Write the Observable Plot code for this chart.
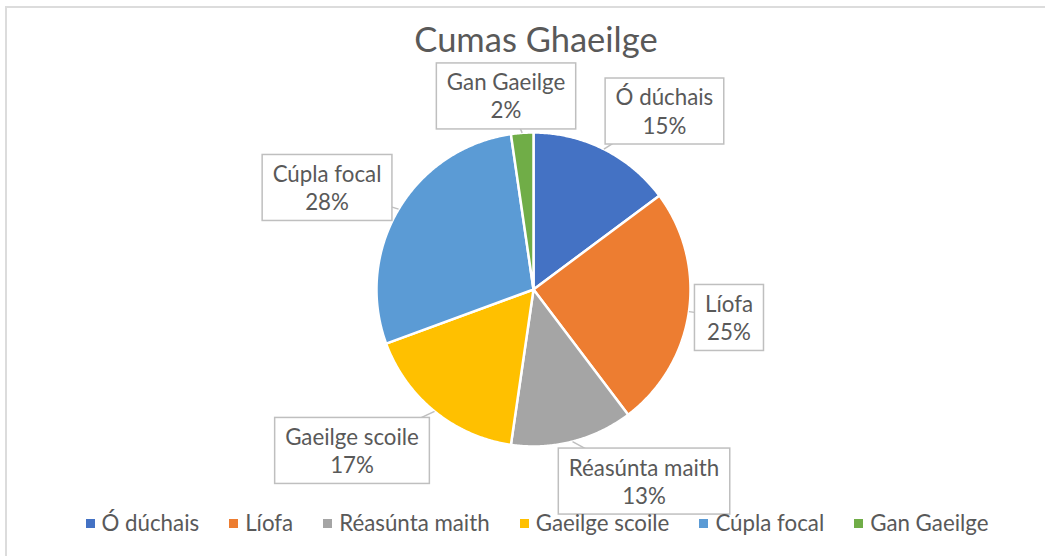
<!DOCTYPE html>
<html><head><meta charset="utf-8">
<script src="https://cdn.jsdelivr.net/npm/d3@7"></script>
<script src="https://cdn.jsdelivr.net/npm/@observablehq/plot@0.6"></script>
<style>
html,body{margin:0;padding:0;background:#fff;overflow:hidden;}
body{width:1045px;height:556px;position:relative;font-family:Lato,"Open Sans",sans-serif;color:#595959;}
#frame{position:absolute;left:5px;top:6px;width:1100px;height:600px;border-left:2px solid #dcdcdc;border-top:2px solid #dcdcdc;}
#title{position:absolute;left:0;top:22px;width:1072px;text-align:center;font-size:34.5px;line-height:1;white-space:nowrap;}
#plot{position:absolute;left:0;top:62px;}
#legend{position:absolute;left:0;top:512px;width:1074px;display:flex;justify-content:center;gap:30px;font-size:22.3px;line-height:1;white-space:nowrap;}
#legend .item{display:flex;align-items:center;}
#legend .sw{width:9px;height:9px;margin-right:7px;display:inline-block;}
</style></head>
<body>
<div id="frame"></div>
<div id="title"></div>
<div id="plot"></div>
<div id="legend"></div>
<script>
// ---- data ----
const categories = ["Ó dúchais", "Líofa", "Réasúnta maith", "Gaeilge scoile", "Cúpla focal", "Gan Gaeilge"];
const shares = [14.8, 24.9, 12.6, 17.1, 28.3, 2.3];
const colors = ["#4472C4", "#ED7D31", "#A5A5A5", "#FFC000", "#5B9BD5", "#70AD47"];
const titleText = "Cumas Ghaeilge";
// callout placement (pie-radius units from centre, x right / y up)
const calloutX = [0.834, 1.245, 0.704, -1.156, -1.315, -0.175];
const calloutY = [1.140, -0.175, -1.217, -1.022, 0.653, 1.236];

// ---- layout ----
const W = 1045, H = 436, CX = 533, CY = 227, R = 157;

const total = d3.sum(shares);
let acc = 0;
const slices = categories.map((name, i) => {
  const a0 = acc / total * 2 * Math.PI;
  acc += shares[i];
  const a1 = acc / total * 2 * Math.PI;
  return {name, a0, a1, mid: (a0 + a1) / 2,
    label: `${name}\n${Math.round(shares[i] / total * 100)}%`,
    lx: calloutX[i], ly: calloutY[i]};
});
const pts = [];
for (const s of slices) {
  pts.push({name: s.name, x: 0, y: 0});
  const n = Math.max(2, Math.ceil((s.a1 - s.a0) / (Math.PI / 360)));
  for (let k = 0; k <= n; k++) {
    const a = s.a0 + (s.a1 - s.a0) * k / n;
    pts.push({name: s.name, x: Math.sin(a), y: Math.cos(a)});
  }
}

document.getElementById("title").textContent = titleText;

const chart = Plot.plot({
  width: W, height: H, margin: 0,
  style: {fontFamily: "Lato, 'Open Sans', sans-serif", background: "transparent", overflow: "visible"},
  x: {domain: [-CX / R, (W - CX) / R], axis: null},
  y: {domain: [-(H - CY) / R, CY / R], axis: null},
  color: {domain: categories, range: colors},
  marks: [
    Plot.line(pts, {x: "x", y: "y", z: "name", fill: "name", stroke: "white", strokeWidth: 2.5,
      strokeLinejoin: "round", curve: "linear-closed"}),
    Plot.link(slices, {x1: d => Math.sin(d.mid), y1: d => Math.cos(d.mid), x2: "lx", y2: "ly",
      stroke: "#bfbfbf", strokeWidth: 1.5}),
    Plot.text(slices, {x: "lx", y: "ly", text: "label", fontSize: 22.3, lineHeight: 1.26,
      fill: "#595959", textAnchor: "middle", lineAnchor: "middle"})
  ]
});
document.getElementById("plot").append(chart);

// callout boxes behind each label
const NS = "http://www.w3.org/2000/svg";
const textG = chart.querySelector('g[aria-label="text"]');
textG.querySelectorAll("text").forEach(t => {
  const b = t.getBBox();
  const w = b.width + 21, h = 66;
  const mx = b.x + b.width / 2, my = b.y + b.height / 2;
  const r = document.createElementNS(NS, "rect");
  r.setAttribute("x", mx - w / 2);
  r.setAttribute("y", my - h / 2);
  r.setAttribute("width", w);
  r.setAttribute("height", h);
  r.setAttribute("fill", "white");
  r.setAttribute("stroke", "#bfbfbf");
  r.setAttribute("stroke-width", 1.5);
  if (t.getAttribute("transform")) r.setAttribute("transform", t.getAttribute("transform"));
  textG.insertBefore(r, t);
});

// legend
const lg = document.getElementById("legend");
categories.forEach((c, i) => {
  const it = document.createElement("div");
  it.className = "item";
  const sw = document.createElement("span");
  sw.className = "sw";
  sw.style.background = colors[i];
  it.append(sw, document.createTextNode(c));
  lg.append(it);
});
</script>
</body></html>
